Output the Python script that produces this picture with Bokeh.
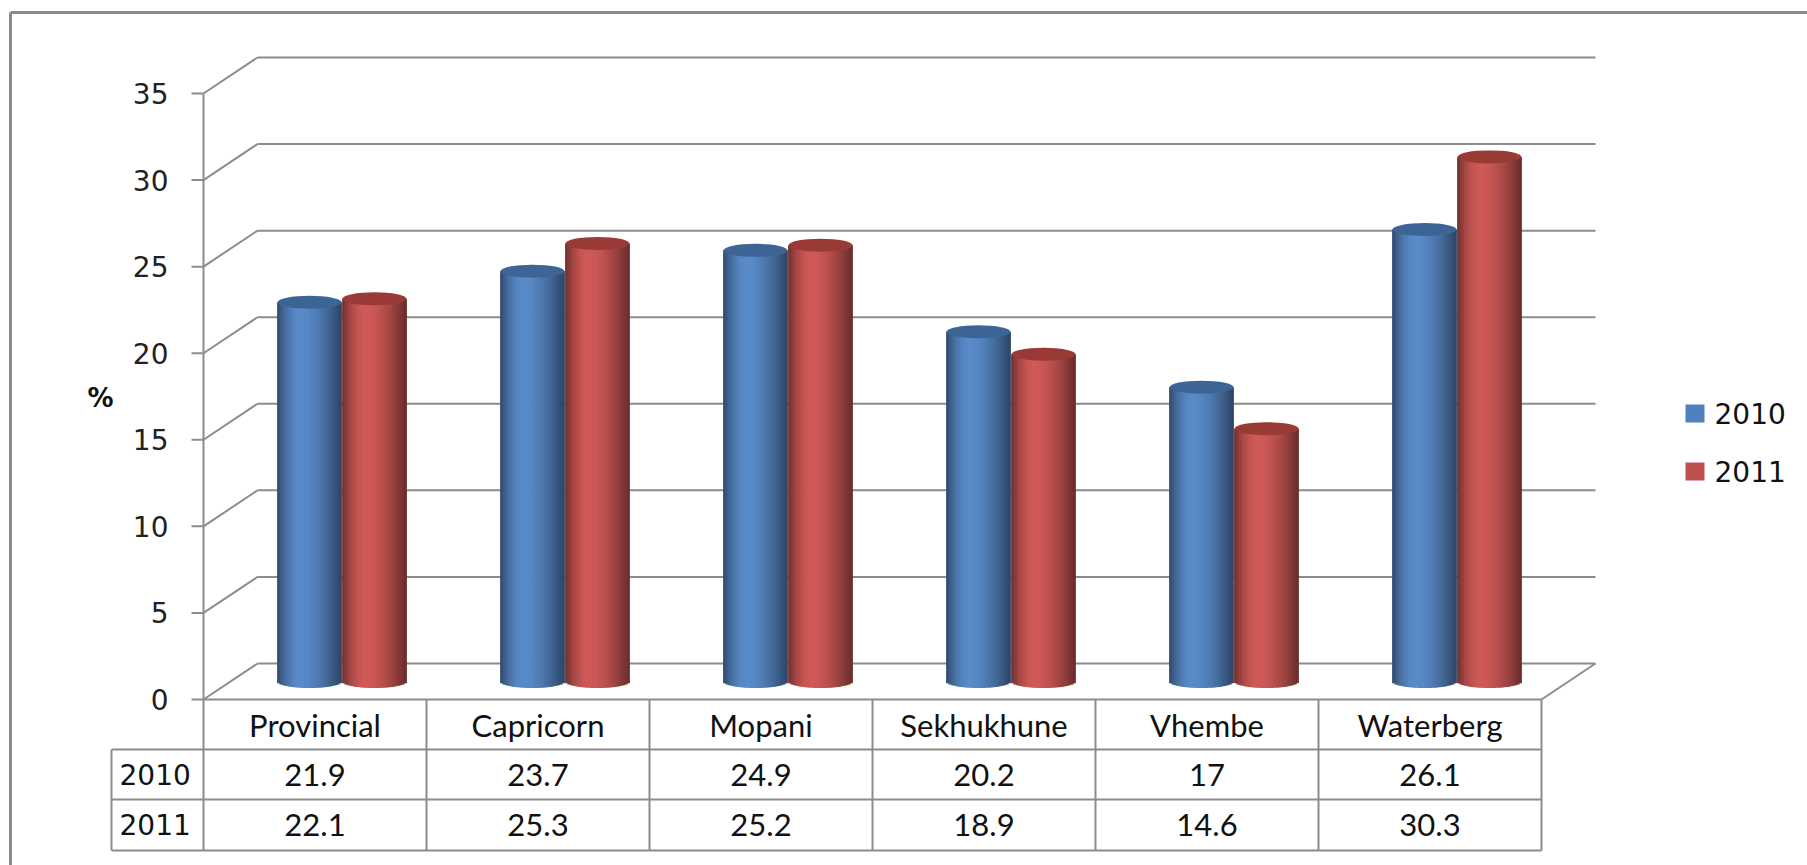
import math
from bokeh.plotting import figure
from bokeh.models import Range1d
from bokeh.core.properties import value
from bokeh.embed import file_html
from bokeh.resources import INLINE

# ---------------- data ----------------
categories = ["Provincial", "Capricorn", "Mopani", "Sekhukhune", "Vhembe", "Waterberg"]
years = ["2010", "2011"]
v2010 = [21.9, 23.7, 24.9, 20.2, 17, 26.1]
v2011 = [22.1, 25.3, 25.2, 18.9, 14.6, 30.3]
ticks = [0, 5, 10, 15, 20, 25, 30, 35]
y_label = "%"

series = [v2010, v2011]
peak_cols = [(90, 139, 202), (208, 90, 87)]
top_cols = ["#3C6595", "#9A3A37"]
legend_cols = ["#4F81BD", "#C0504D"]

# ---------------- layout (reference pixel space) ----------------
W, H = 1807, 865
OFF = 0
AX = 203.0          # front axis x (px)
COLW = 223.0        # table column width (px)
Y0, YTOP = 699.0, 93.0
SY = (Y0 - YTOP) / ticks[-1]


def X(px):
    return (px - AX) / COLW


def Y(py):
    return (Y0 - py) / SY


DXF = 54 / COLW     # depth offset (x) of back wall
DYF = 36 / SY       # depth offset (y) of back wall
ncat = len(categories)

p = figure(width=W, height=H,
           x_range=Range1d(X(OFF), X(OFF + W)),
           y_range=Range1d(Y(OFF + H), Y(OFF)),
           x_axis_location=None, y_axis_location=None,
           min_border=0, toolbar_location=None, output_backend="svg",
           outline_line_color=None, background_fill_color="white",
           border_fill_color="white")
p.grid.visible = False

GRID = "#8C8C8C"

# outer chart border (cropped at right / bottom)
p.segment(x0=[X(10), X(10)], y0=[Y(12), Y(12)], x1=[X(1810), X(10)], y1=[Y(12), Y(870)],
          line_color="#8A8A8A", line_width=3)

# side wall diagonals and back wall gridlines
p.segment(x0=[0] * len(ticks), y0=ticks, x1=[DXF] * len(ticks), y1=[t + DYF for t in ticks],
          line_color=GRID, line_width=2)
p.segment(x0=[DXF] * len(ticks), y0=[t + DYF for t in ticks],
          x1=[ncat + DXF] * len(ticks), y1=[t + DYF for t in ticks],
          line_color=GRID, line_width=2)
# axis line and tick marks
p.segment(x0=[0], y0=[0], x1=[0], y1=[ticks[-1]], line_color=GRID, line_width=2)
p.segment(x0=[X(191)] * len(ticks), y0=ticks, x1=[0] * len(ticks), y1=ticks,
          line_color=GRID, line_width=2)
# floor
p.segment(x0=[0, ncat], y0=[0, 0], x1=[ncat, ncat + DXF], y1=[0, DYF],
          line_color=GRID, line_width=2)

# tick labels
p.text(x=[X(168)] * len(ticks), y=ticks, text=[str(t) for t in ticks],
       text_font=value("DejaVu Sans"), text_font_size=value("28px"),
       text_align="right", text_baseline="middle", text_color="#222222")
# axis title
p.text(x=[X(100)], y=[Y(397)], text=[y_label], text_font=value("DejaVu Sans"),
       text_font_size=value("26px"), text_font_style="bold",
       text_align="center", text_baseline="middle", text_color="#111111")

# ---------------- cylinders ----------------
NS = 28
BW = 64 / COLW
EH = 6.5 / SY
offsets = [-32.5 / COLW, 32.5 / COLW]


def shade(rgb, t):
    if t < 0.38:
        f = 1 - 0.48 * ((0.38 - t) / 0.38) ** 2
    else:
        f = 1 - 0.50 * ((t - 0.38) / 0.62) ** 1.6
    r, g, b = (max(0, min(255, int(c * f))) for c in rgb)
    return "#%02x%02x%02x" % (r, g, b)


for s, vals in enumerate(series):
    xs, ws, tops, bots, cols = [], [], [], [], []
    ex, ey = [], []
    for i, v in enumerate(vals):
        cx = i + 0.5 + DXF / 2 + offsets[s]
        base = DYF / 2
        for j in range(NS):
            t = (j + 0.5) / NS
            xs.append(cx + (t - 0.5) * BW)
            ws.append(BW / NS * 1.35)
            tops.append(v + base)
            bots.append(base - EH * math.sqrt(max(0.0, 1 - (2 * t - 1) ** 2)))
            cols.append(shade(peak_cols[s], t))
        ex.append(cx)
        ey.append(v + base)
    p.vbar(x=xs, width=ws, top=tops, bottom=bots, fill_color=cols, line_color=None)
    p.ellipse(x=ex, y=ey, width=[BW] * len(ex), height=[2 * EH] * len(ex),
              fill_color=top_cols[s], line_color=None)

# ---------------- data table ----------------
TL = X(111)
rows_y = [Y(749), Y(799), Y(850)]
p.segment(x0=[TL] * 3, y0=rows_y, x1=[ncat] * 3, y1=rows_y, line_color=GRID, line_width=2)
p.segment(x0=list(range(ncat + 1)), y0=[0] * (ncat + 1), x1=list(range(ncat + 1)),
          y1=[rows_y[-1]] * (ncat + 1), line_color=GRID, line_width=2)
p.segment(x0=[TL], y0=[rows_y[0]], x1=[TL], y1=[rows_y[-1]], line_color=GRID, line_width=2)

cx_cols = [i + 0.5 for i in range(ncat)]
TFONT = value("Lato")
p.text(x=cx_cols, y=[Y(724)] * ncat, text=categories, text_font=TFONT,
       text_font_size=value("31px"), text_align="center", text_baseline="middle",
       text_color="#111111")
for r, vals in enumerate(series):
    yy = Y(774 + 50 * r)
    p.text(x=cx_cols, y=[yy] * ncat, text=["{:g}".format(v) for v in vals], text_font=TFONT,
           text_font_size=value("31px"), text_align="center", text_baseline="middle",
           text_color="#111111")
    p.text(x=[X(119)], y=[yy], text=[years[r]], text_font=value("DejaVu Sans"),
           text_font_size=value("28px"), text_align="left", text_baseline="middle",
           text_color="#111111")

# ---------------- legend ----------------
for r, yr in enumerate(years):
    yy = Y(413 + 58 * r)
    p.rect(x=[X(1694.5)], y=[yy], width=19, height=18, width_units="screen",
           height_units="screen", fill_color=legend_cols[r], line_color=None)
    p.text(x=[X(1714)], y=[yy], text=[yr], text_font=value("DejaVu Sans"),
           text_font_size=value("28px"), text_align="left", text_baseline="middle",
           text_color="#111111")

open("out.html", "w").write(file_html(p, INLINE))
